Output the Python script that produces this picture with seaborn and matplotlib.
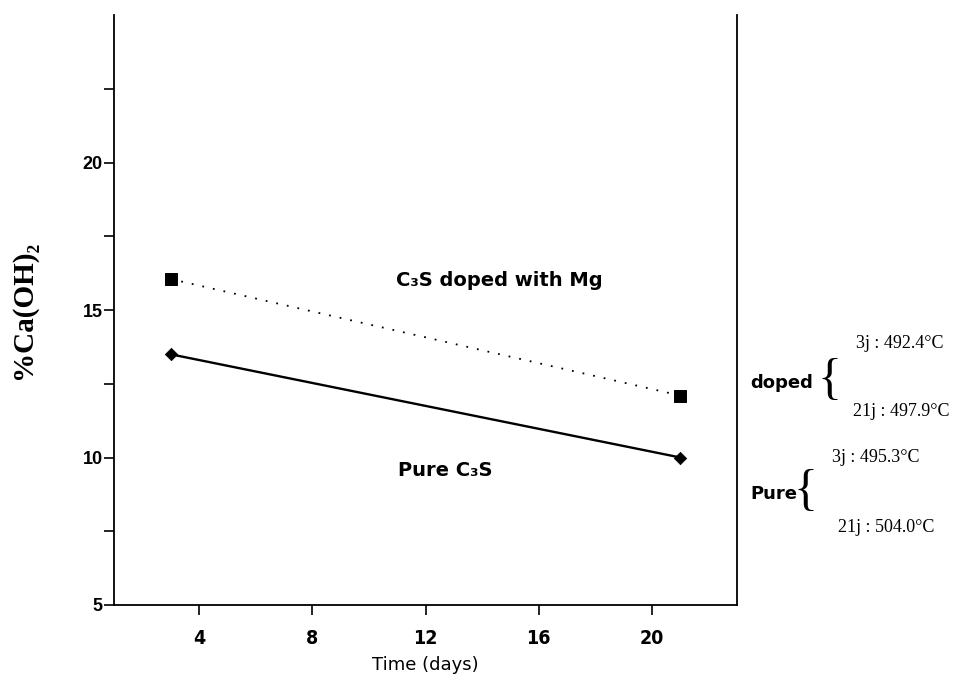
import matplotlib
matplotlib.use("Agg")
import matplotlib.pyplot as plt
from matplotlib.ticker import FixedLocator
import seaborn as sns
import pandas as pd

# Portlandite content of hydrated C3S pastes
days = [3, 21]
doped_mg = [16.05, 12.1]
pure_c3s = [13.5, 10.0]

x_ticks = [4, 8, 12, 16, 20]
y_ticks = [5, 10, 15, 20]
y_minor = [7.5, 12.5, 17.5, 22.5]

# Dehydroxylation temperatures listed beside the plot
doped_temps = ["3j : 492.4°C", "21j : 497.9°C"]
pure_temps = ["3j : 495.3°C", "21j : 504.0°C"]

sns.set_style("ticks")
plt.rcParams["font.family"] = ["DejaVu Sans"]
for key in ["text.color", "axes.labelcolor", "xtick.color", "ytick.color",
            "axes.edgecolor"]:
    plt.rcParams[key] = "black"

df = pd.DataFrame({
    "days": days * 2,
    "value": doped_mg + pure_c3s,
    "series": ["doped"] * len(days) + ["pure"] * len(days),
})

fig = plt.figure(figsize=(9.6, 6.84), dpi=100)
ax = fig.add_axes([0.11875, 0.1155, 0.6490, 0.8625])

d = df[df.series == "doped"]
p = df[df.series == "pure"]
sns.lineplot(data=d, x="days", y="value", ax=ax, color="black",
             linewidth=1.3, linestyle=(0, (1, 5)))
sns.lineplot(data=p, x="days", y="value", ax=ax, color="black", linewidth=1.7)
sns.scatterplot(data=d, x="days", y="value", ax=ax, marker="s", s=75,
                color="black", edgecolor="black", zorder=5)
sns.scatterplot(data=p, x="days", y="value", ax=ax, marker="D", s=40,
                color="black", edgecolor="black", zorder=5)

ax.set_xlim(1, 23)
ax.set_ylim(5, 25)
ax.set_xticks(x_ticks)
ax.set_yticks(y_ticks)
ax.yaxis.set_minor_locator(FixedLocator(y_minor))
ax.tick_params(axis="both", which="both", direction="out", length=7,
               width=1.2, color="black")
ax.tick_params(axis="y", labelsize=13, pad=1)
ax.tick_params(axis="x", labelsize=14, pad=10)
for lab in ax.get_yticklabels():
    lab.set_fontweight("bold")
    lab.set_family(["Liberation Sans"])
for lab in ax.get_xticklabels():
    lab.set_fontweight("bold")
    lab.set_fontstretch("condensed")

for side in ["left", "bottom", "right"]:
    ax.spines[side].set_linewidth(1.3)
    ax.spines[side].set_color("black")
ax.spines["top"].set_visible(False)

ax.set_xlabel("Time (days)", fontsize=13, labelpad=6)
ax.set_ylabel("%Ca(OH)₂", fontsize=21, fontweight="bold",
              family=["Liberation Serif", "DejaVu Serif"], labelpad=33)

ax.text(14.6, 16.0, "C₃S doped with Mg", fontsize=14, fontweight="bold",
        ha="center", va="center")
ax.text(12.7, 9.56, "Pure C₃S", fontsize=14, fontweight="bold",
        ha="center", va="center")

# Side notes with braces
serif = ["Liberation Serif", "DejaVu Serif"]
fig.text(782 / 960, 1 - 383 / 684, "doped", fontsize=13, fontweight="bold",
         ha="center", va="center")
fig.text(830 / 960, 1 - 381 / 684, "{", fontsize=36, family=serif,
         ha="center", va="center")
fig.text(900 / 960, 1 - 343 / 684, doped_temps[0], fontsize=13, family=serif,
         ha="center", va="center")
fig.text(901 / 960, 1 - 412 / 684, doped_temps[1], fontsize=13, family=serif,
         ha="center", va="center")

fig.text(774 / 960, 1 - 494 / 684, "Pure", fontsize=13, fontweight="bold",
         ha="center", va="center")
fig.text(805 / 960, 1 - 492 / 684, "{", fontsize=36, family=serif,
         ha="center", va="center")
fig.text(876 / 960, 1 - 458 / 684, pure_temps[0], fontsize=13, family=serif,
         ha="center", va="center")
fig.text(886 / 960, 1 - 528 / 684, pure_temps[1], fontsize=13, family=serif,
         ha="center", va="center")

fig.savefig("out.png", dpi=100)
